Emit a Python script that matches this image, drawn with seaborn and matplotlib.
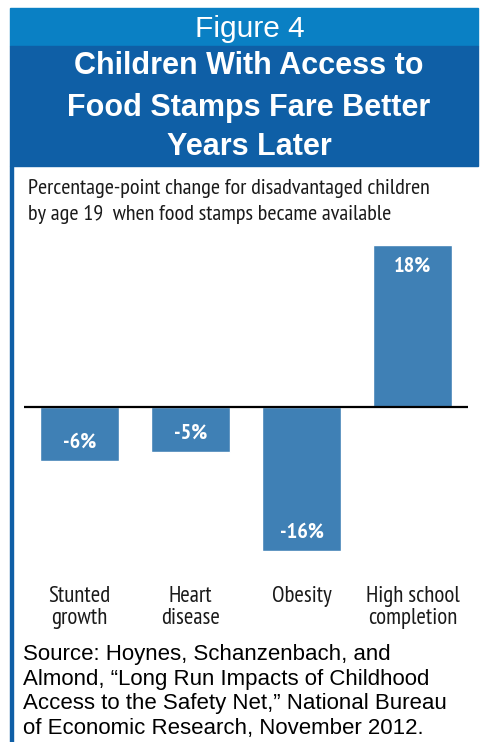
import matplotlib
matplotlib.use("Agg")
import matplotlib.pyplot as plt
from matplotlib.patches import Rectangle
import seaborn as sns
import pandas as pd

# Data
categories = ["Stunted\ngrowth", "Heart\ndisease", "Obesity", "High school\ncompletion"]
changes = [-6, -5, -16, 18]
value_labels = ["-6%", "-5%", "-16%", "18%"]

sns.set_theme(style="white")

NARROW = ["PT Sans Narrow", "DejaVu Sans"]
HEAD = ["Liberation Sans", "DejaVu Sans"]

W, H = 480, 742
fig = plt.figure(figsize=(W / 100, H / 100), dpi=100)
fig.patch.set_facecolor("white")


def fx(px):
    return px / W


def fy(py):
    return 1 - py / H


# Header bands and left rule
fig.patches.append(Rectangle((fx(10), fy(46)), fx(468), 38 / H,
                             transform=fig.transFigure, color="#0a80c4", zorder=0))
fig.patches.append(Rectangle((fx(10), fy(166)), fx(468), 120 / H,
                             transform=fig.transFigure, color="#0f5fa6", zorder=0))
fig.patches.append(Rectangle((fx(10), 0), fx(2.5), fy(166),
                             transform=fig.transFigure, color="#0f5fa6", zorder=0))

fig.text(fx(250), fy(37), "Figure 4", color="white", fontsize=21.5,
         ha="center", va="baseline", family=HEAD)
for txt, yb in [("Children With Access to", 74),
                ("Food Stamps Fare Better", 116),
                ("Years Later", 155)]:
    fig.text(fx(249), fy(yb), txt, color="white", fontsize=22, fontweight="bold",
             ha="center", va="baseline", family=HEAD)

fig.text(fx(28), fy(194), "Percentage-point change for disadvantaged children",
         fontsize=16, color="#1a1a1a", ha="left", va="baseline", family=NARROW)
fig.text(fx(28), fy(220), "by age 19  when food stamps became available",
         fontsize=16, color="#1a1a1a", ha="left", va="baseline", family=NARROW)

# Bar chart
ax = fig.add_axes([fx(24), fy(551), fx(444), 306 / H])
df = pd.DataFrame({"category": categories, "change": changes})
sns.barplot(data=df, x="category", y="change", color="#3f80b5", saturation=1,
            width=0.71, ax=ax)
ax.set_xlim(-0.5, 3.5)
ax.set_ylim(-16, 18)
ax.axhline(0, color="black", lw=1.6, zorder=5)
for s in ax.spines.values():
    s.set_visible(False)
ax.set_yticks([])
ax.set_xlabel("")
ax.set_ylabel("")
ax.tick_params(axis="x", length=0, pad=25)
for t in ax.get_xticklabels():
    t.set_fontsize(16.5)
    t.set_color("#1a1a1a")
    t.set_linespacing(1.05)
    t.set_fontfamily(NARROW)

for i, (v, lab) in enumerate(zip(changes, value_labels)):
    off = -2.3 if v > 0 else 2.1
    ax.text(i, v + off, lab, color="white", fontsize=16, fontweight="bold",
            ha="center", va="center", family=NARROW)

source = ["Source: Hoynes, Schanzenbach, and",
          "Almond, \u201cLong Run Impacts of Childhood",
          "Access to the Safety Net,\u201d National Bureau",
          "of Economic Research, November 2012."]
for k, line in enumerate(source):
    fig.text(fx(23), fy(660 + 24.6 * k), line, fontsize=16, color="black",
             ha="left", va="baseline", family=HEAD)

fig.savefig("out.png", dpi=100, facecolor="white")
